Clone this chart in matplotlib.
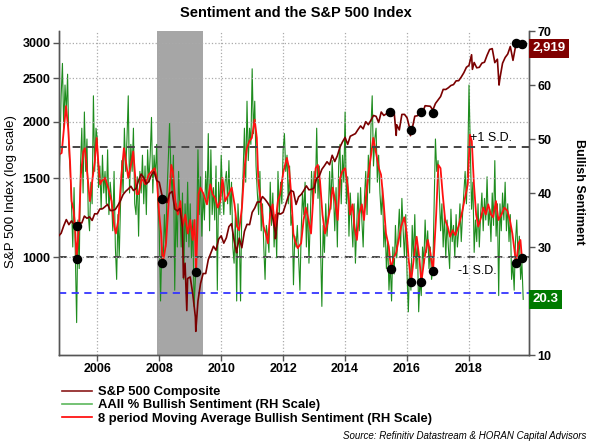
#!/usr/bin/env python3
"""
Sentiment and the S&P 500 Index - AAII bullish sentiment vs S&P 500 (log scale)
"""

import matplotlib.pyplot as plt
import matplotlib.transforms as mtransforms
from matplotlib.lines import Line2D
from matplotlib.ticker import NullLocator, FixedLocator
import numpy as np

plt.rcParams['font.family'] = ['Liberation Sans', 'DejaVu Sans']

# S&P 500 month-end closes, Oct 2004 (start) to Sep 2019
sp_start = 2004.75
sp_monthly = [1114,
              1130, 1174, 1212,
              1181, 1204, 1181, 1157, 1192, 1191, 1234, 1220, 1229, 1207, 1249, 1248,
              1280, 1281, 1295, 1311, 1270, 1270, 1277, 1304, 1336, 1378, 1401, 1418,
              1438, 1407, 1421, 1482, 1531, 1503, 1455, 1474, 1527, 1549, 1481, 1468,
              1379, 1331, 1323, 1386, 1400, 1280, 1267, 1283, 1165, 969, 896, 903,
              826, 735, 798, 873, 919, 919, 987, 1021, 1057, 1036, 1096, 1115,
              1074, 1104, 1169, 1187, 1089, 1031, 1102, 1049, 1141, 1183, 1181, 1258,
              1286, 1327, 1326, 1364, 1345, 1321, 1292, 1219, 1131, 1253, 1247, 1258,
              1312, 1366, 1408, 1398, 1310, 1362, 1379, 1407, 1441, 1412, 1416, 1426,
              1498, 1515, 1569, 1598, 1631, 1606, 1686, 1633, 1682, 1757, 1806, 1848,
              1783, 1859, 1872, 1884, 1924, 1960, 1931, 2003, 1972, 2018, 2068, 2059,
              1995, 2105, 2068, 2086, 2107, 2063, 2104, 1972, 1920, 2079, 2080, 2044,
              1940, 1932, 2060, 2065, 2097, 2099, 2174, 2171, 2168, 2126, 2199, 2239,
              2279, 2364, 2363, 2384, 2412, 2423, 2470, 2472, 2519, 2575, 2648, 2674,
              2824, 2714, 2641, 2648, 2705, 2718, 2816, 2902, 2914, 2712, 2760, 2507,
              2704, 2784, 2834, 2946, 2752, 2942, 2980, 2926, 2977]
# intra-month weekly extremes visible on the chart
sp_extra_years = [2008.78, 2008.89, 2009.18, 2010.50, 2011.75, 2015.65, 2016.11, 2018.11, 2018.97, 2019.42]
sp_extra_vals = [899, 760, 683, 1022, 1099, 1867, 1864, 2620, 2417, 2744]

# AAII % bullish, semi-monthly from Oct 2004
bull_start = 2004.75
bull = [40, 47, 58, 64, 52, 60,
        55, 62, 48, 44, 38, 30, 41, 28, 16, 35, 26, 45, 52, 40, 55, 44, 50, 36, 33, 42, 38, 58, 44, 52,
        50, 41, 45, 37, 47, 40, 44, 38, 48, 36, 42, 39, 33, 44, 30, 24, 36, 28, 38, 46, 40, 52, 44, 50,
        58, 40, 49, 44, 52, 38, 36, 43, 32, 44, 40, 47, 38, 45, 36, 48, 42, 47, 54, 40, 47, 43, 49, 38,
        33, 20, 30, 27, 36, 30, 40, 46, 53, 44, 40, 47, 22, 38, 30, 44, 37, 30, 40, 24, 38, 31, 42, 30,
        38, 28, 35, 19, 24, 33, 48, 36, 43, 32, 40, 35, 44, 38, 51, 33, 48, 36, 41, 35, 45, 22, 42, 36,
        47, 40, 36, 42, 44, 38, 46, 36, 42, 30, 27, 36, 20, 38, 33, 20, 38, 44, 52, 42, 57, 46, 52, 49,
        63, 51, 57, 45, 40, 36, 44, 33, 38, 30, 24, 34, 32, 29, 42, 34, 40, 30, 36, 28, 44, 36, 42, 38,
        48, 51, 44, 47, 38, 45, 34, 36, 23, 32, 30, 34, 28, 22, 33, 40, 36, 42, 30, 38, 27, 35, 44, 38,
        44, 40, 52, 39, 45, 30, 19, 34, 29, 38, 32, 36, 44, 37, 46, 40, 33, 41, 30, 45, 49, 38, 47, 42,
        55, 38, 43, 32, 40, 35, 30, 38, 27, 34, 40, 33, 41, 35, 30, 39, 44, 36, 47, 40, 52, 58, 45, 50,
        52, 42, 47, 40, 36, 41, 30, 34, 26, 31, 22, 27, 20, 30, 25, 34, 28, 32, 37, 30, 39, 33, 28, 36,
        25, 18, 27, 22, 34, 28, 36, 26, 31, 18, 24, 21, 30, 27, 35, 29, 33, 26, 30, 24, 26, 38, 50, 44,
        46, 40, 33, 38, 30, 36, 28, 35, 30, 26, 37, 31, 34, 28, 36, 30, 33, 38, 31, 36, 40, 44, 38, 45,
        60, 48, 37, 42, 29, 35, 31, 38, 30, 36, 40, 33, 39, 35, 43, 34, 37, 31, 40, 34, 46, 32, 38, 21,
        38, 33, 40, 35, 42, 33, 38, 31, 36, 24, 27, 22, 31, 35, 28, 32, 24, 27, 20.3]

# 8 period moving average of bullish sentiment
ma_years = [2004.76, 2004.85, 2004.99, 2005.06, 2005.12, 2005.17, 2005.23, 2005.28, 2005.33, 2005.41,
            2005.47, 2005.55, 2005.60, 2005.69, 2005.76, 2005.85, 2005.92, 2005.98,
            2006.03, 2006.09, 2006.14, 2006.25, 2006.35, 2006.46, 2006.55, 2006.60, 2006.68, 2006.78, 2006.86, 2006.92,
            2007.00, 2007.11, 2007.16, 2007.27, 2007.33, 2007.44, 2007.55, 2007.66, 2007.76, 2007.85, 2007.92,
            2008.00, 2008.06, 2008.11, 2008.16, 2008.22, 2008.30, 2008.39, 2008.44, 2008.52, 2008.60, 2008.68, 2008.75, 2008.84, 2008.92,
            2009.00, 2009.08, 2009.14, 2009.19, 2009.27, 2009.33, 2009.43, 2009.54, 2009.65, 2009.72, 2009.81, 2009.89, 2009.97,
            2010.04, 2010.13, 2010.24, 2010.34, 2010.43, 2010.51, 2010.58, 2010.67, 2010.75, 2010.83, 2010.91, 2010.99,
            2011.08, 2011.15, 2011.20, 2011.29, 2011.37, 2011.44, 2011.51, 2011.58, 2011.66, 2011.74, 2011.83, 2011.90,
            2012.01, 2012.12, 2012.19, 2012.26, 2012.33, 2012.39, 2012.47, 2012.58, 2012.66, 2012.73, 2012.82, 2012.90, 2012.98,
            2013.05, 2013.12, 2013.19, 2013.27, 2013.35, 2013.43, 2013.52, 2013.60, 2013.68, 2013.76, 2013.84, 2013.91,
            2014.00, 2014.09, 2014.16, 2014.24, 2014.30, 2014.38, 2014.45, 2014.54, 2014.61, 2014.68, 2014.75, 2014.84, 2014.91, 2014.99,
            2015.09, 2015.16, 2015.24, 2015.32, 2015.41, 2015.48, 2015.56, 2015.65, 2015.73, 2015.81, 2015.91, 2015.99,
            2016.05, 2016.13, 2016.24, 2016.31, 2016.40, 2016.46, 2016.56, 2016.67, 2016.75, 2016.84, 2016.94,
            2017.01, 2017.08, 2017.15, 2017.23, 2017.31, 2017.39, 2017.47, 2017.56, 2017.66, 2017.76, 2017.87, 2017.96,
            2018.03, 2018.09, 2018.16, 2018.23, 2018.30, 2018.39, 2018.46, 2018.54, 2018.62, 2018.71, 2018.78, 2018.87, 2018.95,
            2019.05, 2019.14, 2019.24, 2019.32, 2019.40, 2019.52, 2019.60, 2019.66, 2019.71]
ma_vals = [47.1, 47.4, 56.1, 52.0, 45.9, 38.5, 36.9, 34.1, 28.0, 33.8,
           43.4, 47.7, 48.3, 42.8, 38.5, 42.8, 45.9, 50.2,
           45.9, 41.6, 42.2, 42.8, 41.0, 38.5, 33.8, 32.5, 35.0, 43.4, 48.3, 45.9,
           42.8, 45.9, 47.7, 39.8, 39.8, 42.8, 41.6, 43.4, 44.0, 44.6, 42.8,
           36.0, 32.5, 27.2, 28.5, 30.7, 37.9, 45.2, 44.0, 38.5, 36.0, 38.5, 33.8, 36.0, 32.5,
           35.0, 31.3, 35.0, 25.4, 39.8, 41.0, 39.8, 37.9, 41.6, 39.8, 39.0, 37.3, 38.5,
           42.8, 38.5, 39.8, 41.0, 37.9, 33.8, 33.1, 37.3, 44.6, 48.3, 49.6, 50.2,
           53.6, 50.2, 42.2, 37.9, 33.8, 32.5, 30.7, 36.0, 37.9, 33.8, 38.5, 39.8,
           44.0, 46.5, 44.6, 39.8, 32.5, 31.0, 29.8, 30.7, 35.0, 37.3, 35.0, 32.5, 39.8,
           44.6, 45.2, 42.2, 36.0, 32.5, 34.3, 37.3, 41.0, 38.5, 35.0, 42.8, 44.0,
           44.6, 41.0, 36.0, 37.9, 33.8, 31.3, 36.0, 37.9, 35.0, 39.8, 43.4, 47.1, 50.2, 47.7,
           44.6, 43.4, 38.5, 32.5, 30.1, 26.0, 27.8, 29.0, 31.3, 33.8, 35.5, 32.5,
           27.8, 23.5, 29.0, 31.9, 27.8, 23.5, 27.8, 31.3, 29.0, 25.6, 36.0,
           45.2, 44.6, 39.8, 35.0, 33.8, 31.9, 33.1, 32.2, 33.8, 36.0, 39.1, 41.6,
           50.8, 49.6, 41.6, 36.0, 33.8, 35.5, 37.3, 36.0, 37.9, 36.0, 35.5, 38.5, 35.0,
           36.0, 37.3, 36.7, 35.0, 32.5, 27.0, 30.7, 31.3, 27.9]

# highlighted points (black dots)
dot_sp_years = [2005.35, 2008.10, 2015.45, 2016.13, 2016.45, 2016.84, 2019.52, 2019.71]
dot_sp_vals = [1173, 1347, 2105, 1919, 2105, 2095, 3000, 2990]
dot_ma_years = [2005.35, 2008.10, 2009.19, 2015.47, 2016.13, 2016.46, 2016.84, 2019.52, 2019.71]
dot_ma_vals = [27.8, 27.0, 25.4, 26.0, 23.5, 23.5, 25.6, 27.0, 27.9]

plus_sd = 48.5
minus_sd = 28.1
low_line = 21.5
last_sp = 2919
last_bull = 20.3
recession = (2007.94, 2009.42)

sp_left_ticks = [1000, 1500, 2000, 2500, 3000]
sent_ticks = [10, 20, 30, 40, 50, 60, 70]
year_ticks = [2006, 2008, 2010, 2012, 2014, 2016, 2018]

# build x positions
sp_years = sp_start + np.arange(len(sp_monthly)) / 12.0
sp_x = np.concatenate([sp_years, sp_extra_years])
sp_y = np.concatenate([sp_monthly, sp_extra_vals])
order = np.argsort(sp_x)
sp_x, sp_y = sp_x[order], sp_y[order]
bull_years = bull_start + np.arange(len(bull)) / 24.0

# colours
c_sp = '#7a0000'
c_bull = '#1e8c1e'
c_ma = '#ff1010'
c_spine = '#555555'

fig = plt.figure(figsize=(5.91, 4.43), dpi=100)
ax_s = fig.add_axes([59 / 591, 1 - 355 / 443, 470 / 591, 324 / 443])
ax_p = ax_s.twinx()
ax_s.yaxis.tick_right()
ax_p.yaxis.tick_left()

# sentiment (right scale)
ax_s.axvspan(recession[0], recession[1], color='#a6a6a6', zorder=0.3, lw=0)
ax_s.plot(bull_years, bull, color=c_bull, lw=0.8, zorder=2)
ax_s.plot(ma_years, ma_vals, color=c_ma, lw=1.3, zorder=2.2)
ax_s.axhline(plus_sd, color='#444444', ls=(0, (4, 3)), lw=1.4, zorder=3)
ax_s.axhline(minus_sd, color='#444444', ls=(0, (4, 3)), lw=1.4, zorder=3)
ax_s.axhline(low_line, color='#3535ff', ls=(0, (4, 3)), lw=1.3, zorder=3)
ax_s.text(2018.03, plus_sd + 0.5, '+1 S.D.', fontsize=9, ha='left', va='bottom', zorder=4)
ax_s.text(2017.65, minus_sd - 1.4, '-1 S.D.', fontsize=9, ha='left', va='top', zorder=4)

ax_s.set_xlim(2004.764, 2019.937)
ax_s.set_ylim(10, 70)
ax_s.set_yticks(sent_ticks)
ax_s.set_yticklabels(['' if t == 20 else str(t) for t in sent_ticks])
ax_s.set_xticks(year_ticks)
ax_s.set_xticklabels([str(y) for y in year_ticks])
ax_s.grid(axis='x', linestyle=':', color='#aaaaaa', lw=0.9)
ax_s.set_axisbelow(True)
ax_s.tick_params(axis='both', direction='out', length=4, width=1, color=c_spine,
                 labelsize=9, pad=2)
for lab in ax_s.get_xticklabels() + ax_s.get_yticklabels():
    lab.set_fontweight('bold')

# S&P 500 (left, log scale)
ax_p.plot(sp_x, sp_y, color=c_sp, lw=1.2, zorder=3)
ax_p.set_yscale('log')
ax_p.set_ylim(605, 3190)
ax_p.yaxis.set_major_locator(FixedLocator(sp_left_ticks))
ax_p.yaxis.set_minor_locator(NullLocator())
ax_p.set_yticklabels([str(t) for t in sp_left_ticks])
ax_p.grid(axis='y', linestyle=':', color='#aaaaaa', lw=0.9, zorder=1)
ax_p.tick_params(axis='y', direction='out', length=4, width=1, color=c_spine,
                 labelsize=9, pad=2)
for lab in ax_p.get_yticklabels():
    lab.set_fontweight('bold')

# dots
ax_p.scatter(dot_sp_years, dot_sp_vals, s=34, color='black', zorder=5)
ax_p.scatter(dot_ma_years, dot_ma_vals, s=34, color='black', zorder=5,
             transform=ax_s.transData)

for a in (ax_s, ax_p):
    a.spines['top'].set_visible(False)
    for side in ('left', 'right', 'bottom'):
        a.spines[side].set_color(c_spine)
        a.spines[side].set_linewidth(1.0)

# value boxes on the right axis
tr_p = mtransforms.blended_transform_factory(ax_p.transAxes, ax_p.transData)
ax_p.text(1.008, last_sp, f'{last_sp:,}', transform=tr_p, ha='left', va='center',
          color='white', fontsize=9.5, fontweight='bold', clip_on=False, zorder=6,
          bbox=dict(boxstyle='square,pad=0.25', facecolor='#800000', edgecolor='none'))
tr_s = mtransforms.blended_transform_factory(ax_s.transAxes, ax_s.transData)
ax_p.text(1.008, last_bull, f'{last_bull}', transform=tr_s, ha='left', va='center',
          color='white', fontsize=9.5, fontweight='bold', clip_on=False, zorder=6,
          bbox=dict(boxstyle='square,pad=0.25', facecolor='#007a00', edgecolor='none'))

# titles and axis labels
fig.text(296 / 591, 1 - 13 / 443, 'Sentiment and the S&P 500 Index', ha='center', va='center',
         fontsize=10.5, fontweight='bold')
fig.text(11 / 591, 1 - 192 / 443, 'S&P 500 Index (log scale)', rotation=90, ha='center',
         va='center', fontsize=9.5)
fig.text(579 / 591, 1 - 192 / 443, 'Bullish Sentiment', rotation=270, ha='center',
         va='center', fontsize=9, fontweight='bold')

# legend
handles = [Line2D([], [], color='#8b1a1a', lw=1.2),
           Line2D([], [], color='#5cb85c', lw=1.2),
           Line2D([], [], color='#ff0000', lw=1.2)]
labels = ['S&P 500 Composite', 'AAII % Bullish Sentiment (RH Scale)',
          '8 period Moving Average Bullish Sentiment (RH Scale)']
fig.legend(handles, labels, loc='upper left', bbox_to_anchor=(62 / 591, 1 - 386 / 443),
           frameon=False, prop={'size': 9.4, 'weight': 'bold'}, handlelength=2.3,
           handletextpad=0.45, labelspacing=0.08, borderpad=0, borderaxespad=0)

fig.text(586 / 591, 1 - 436 / 443, 'Source: Refinitiv Datastream & HORAN Capital Advisors',
         ha='right', va='center', fontsize=7, style='italic')

plt.savefig('out.png', dpi=100)
plt.close()
